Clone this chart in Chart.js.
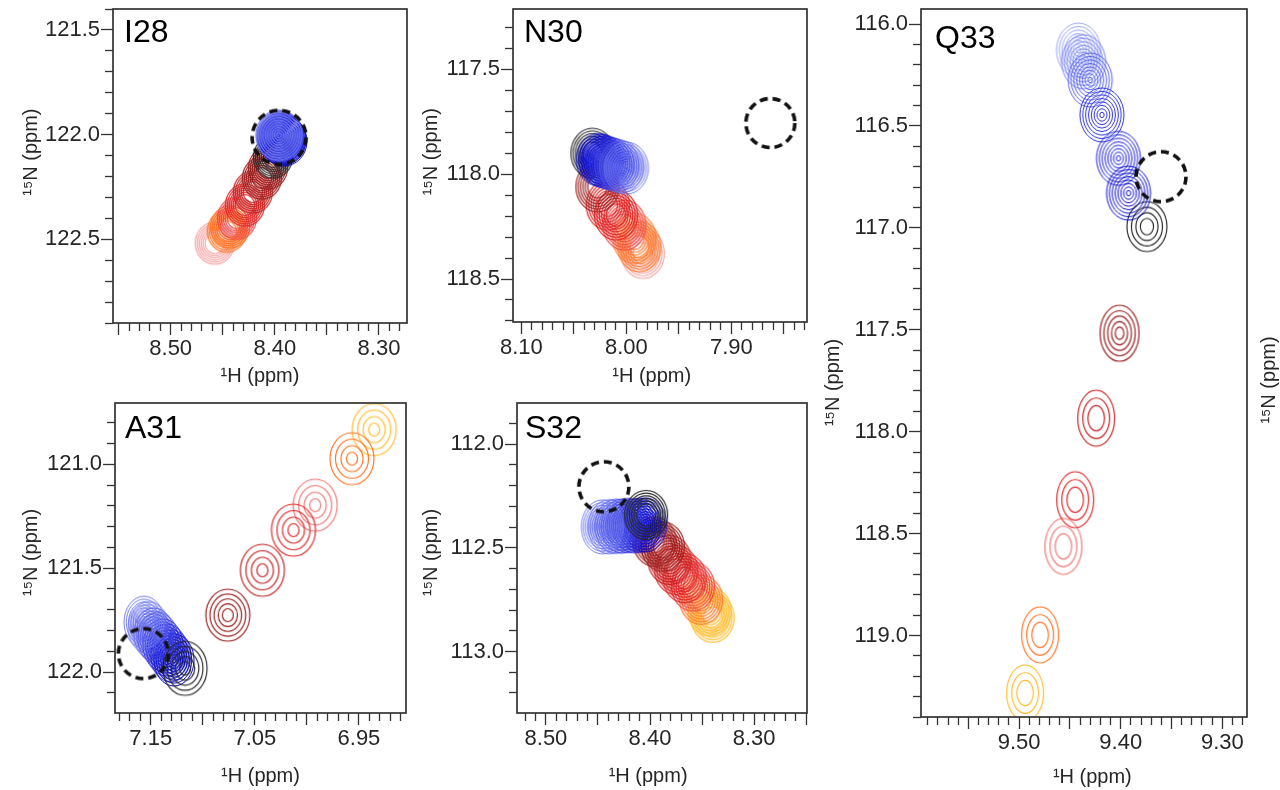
<!DOCTYPE html>
<html><head><meta charset="utf-8">
<script src="https://cdn.jsdelivr.net/npm/chart.js@4/dist/chart.umd.min.js"></script>
<style>
html,body{margin:0;padding:0;background:#fff;width:1280px;height:790px;overflow:hidden}
canvas{position:absolute}
</style></head><body>
<canvas id="cI28" width="420" height="395" style="left:0px;top:0px"></canvas>
<canvas id="cN30" width="420" height="395" style="left:400px;top:0px"></canvas>
<canvas id="cA31" width="420" height="395" style="left:0px;top:395px"></canvas>
<canvas id="cS32" width="420" height="395" style="left:400px;top:395px"></canvas>
<canvas id="cQ33" width="470" height="790" style="left:810px;top:0px"></canvas>
<script>
// ================= DATA =================
const PANELS = ['I28', 'N30', 'A31', 'S32', 'Q33'];

// dashed reference circles (1H ppm, 15N ppm), one per panel
const REF_H = [8.3959, 7.8629, 7.1571, 8.4444, 9.3604];
const REF_N = [122.013, 117.756, 121.911, 112.205, 116.749];

// titration peaks per panel: state, 1H ppm, 15N ppm
const I28_S = ['pk','or','or','r3','r2','r1','dr','dr','k','b1','b2','b3','b4','b5','b6','b7','b8'];
const I28_H = [8.4577,8.4462,8.4430,8.4365,8.4288,8.4212,8.4125,8.4067,8.4019,8.3913,8.3922,8.3927,8.3937,8.3943,8.3950,8.3955,8.3962];
const I28_N = [122.519,122.462,122.441,122.400,122.337,122.275,122.208,122.160,122.108,122.031,122.026,122.024,122.018,122.015,122.009,122.006,122.002];

const N30_S = ['pk','or','or','r3','r2','r2','dr','k','b1','b2','b3','b4','b5','b6','b7','b8'];
const N30_H = [7.9844,7.9876,7.9924,8.0019,8.0098,8.0178,8.0276,8.0324,8.0267,8.0240,8.0212,8.0176,8.0138,8.0092,8.0047,8.0000];
const N30_N = [118.378,118.346,118.306,118.243,118.195,118.148,118.060,117.900,117.930,117.934,117.941,117.945,117.952,117.958,117.965,117.971];

const A31_S = ['ye','or','lr','r2','r1','dr','b1','b2','b3','b4','b5','b6','b7','b8','k'];
const A31_H = [6.9353,6.9567,6.9920,7.0129,7.0427,7.0760,7.1276,7.1308,7.1347,7.1383,7.1432,7.1471,7.1523,7.1564,7.1170];
const A31_N = [120.833,120.973,121.197,121.317,121.510,121.726,121.942,121.921,121.894,121.870,121.838,121.817,121.786,121.760,121.982];

const S32_S = ['ye','ye','or','r3','r2','r2','r1','dr','dr','b1','b2','b3','b4','b5','b6','b7','b8','k'];
const S32_H = [8.3399,8.3428,8.3508,8.3588,8.3668,8.3748,8.3813,8.3877,8.3957,8.4043,8.4098,8.4155,8.4214,8.4268,8.4329,8.4392,8.4458,8.4037];
const S32_N = [112.837,112.806,112.750,112.686,112.646,112.606,112.558,112.494,112.470,112.389,112.391,112.393,112.392,112.395,112.396,112.398,112.399,112.341];

const Q33_S = ['ye','or','lr','r2','r1','dr','k','b9','b8','b7','b5','b4','b3'];
const Q33_H = [9.4941,9.4793,9.4564,9.4448,9.4241,9.4012,9.3742,9.4416,9.4366,9.4300,9.4185,9.4022,9.3923];
const Q33_N = [119.282,118.997,118.563,118.334,117.934,117.517,116.994,116.128,116.185,116.275,116.446,116.659,116.830];

// tick labels
const I28_XLAB = ['8.50','8.40','8.30'];
const I28_YLAB = ['121.5','122.0','122.5'];
const N30_XLAB = ['8.10','8.00','7.90'];
const N30_YLAB = ['117.5','118.0','118.5'];
const A31_XLAB = ['7.15','7.05','6.95'];
const A31_YLAB = ['121.0','121.5','122.0'];
const S32_XLAB = ['8.50','8.40','8.30'];
const S32_YLAB = ['112.0','112.5','113.0'];
const Q33_XLAB = ['9.50','9.40','9.30'];
const Q33_YLAB = ['116.0','116.5','117.0','117.5','118.0','118.5','119.0'];

const X_TITLE = '\u00B9H (ppm)';
const Y_TITLE = '\u00B9\u2075N (ppm)';

// ================= STYLE =================
const FONT = '"Liberation Sans", Arial, Helvetica, sans-serif';
const INK = '#262626';
const COLORS = {
  b1:'#0000b4', b2:'#0606c4', b3:'#1010d0', b4:'#1e20da', b5:'#2e32e0', b6:'#4248e6', b7:'#5a62ec', b8:'#747ef0', b9:'#9aa4f4',
  k:'#262626', dr:'#9a1c1c', r1:'#c41c1c', r2:'#e02424', r3:'#ee4444', lr:'#f07474',
  or:'#ff7424', ye:'#ffbc2c', pk:'#f5a2a2'
};
const LOOK = {
  I28:{rx:19.5, ry:21, n:6, inner:0.5,  brx:23, bry:25, bn:10},
  N30:{rx:21.5, ry:25, n:6, inner:0.45, brx:22, bry:26, bn:10},
  A31:{rx:22, ry:26, n:4, inner:0.25, brx:20, bry:26, bn:9},
  S32:{rx:21.5, ry:24.5, n:6, inner:0.45, brx:21, bry:27, bn:10},
  Q33:{rx:18.5, ry:28, n:3, inner:0.45, brx:22, bry:27, bn:8}
};
const OVERRIDE = {
  A31:{dr:{n:5}, k:{n:5, rx:22, ry:27}},
  Q33:{dr:{n:5, rx:19.5, ry:28, inner:0.22}, k:{n:4, rx:20, ry:25, inner:0.33}}
};

const imgCache = {};
function ringImage(color, rx, ry, n, inner, lw) {
  const key = [color, rx, ry, n, inner, lw].join('|');
  if (imgCache[key]) return imgCache[key];
  const pad = 2;
  const w = 2 * Math.ceil(rx) + 2 * pad, h = 2 * Math.ceil(ry) + 2 * pad;
  const c = document.createElement('canvas');
  c.width = w; c.height = h;
  const g = c.getContext('2d');
  g.strokeStyle = color; g.lineWidth = lw;
  for (let k = 0; k < n; k++) {
    const f = n === 1 ? 1 : 1 - (1 - inner) * k / (n - 1);
    g.beginPath();
    g.ellipse(w / 2, h / 2, rx * f, ry * f, 0, 0, Math.PI * 2);
    g.stroke();
  }
  imgCache[key] = c;
  return c;
}
function peakImage(panel, s) {
  const L = LOOK[panel];
  const blue = s[0] === 'b';
  let st = blue ? {rx:L.brx, ry:L.bry, n:L.bn, inner:0.1} : {rx:L.rx, ry:L.ry, n:L.n, inner:L.inner};
  const o = (OVERRIDE[panel] || {})[s];
  if (o) st = Object.assign({}, st, o);
  return ringImage(COLORS[s], st.rx, st.ry, st.n, st.inner, blue ? 1.0 : 1.15);
}
function dashedImage(r) {
  const w = 2 * Math.ceil(r) + 8;
  const c = document.createElement('canvas');
  c.width = w; c.height = w;
  const g = c.getContext('2d');
  g.strokeStyle = '#111'; g.lineWidth = 3.6; g.setLineDash([8, 5]);
  g.beginPath(); g.arc(w / 2, w / 2, r, 0, Math.PI * 2); g.stroke();
  return c;
}

const NB = '\u00A0';
const CFG = {
  I28:{S:I28_S, H:I28_H, N:I28_N, x:[8.2731, 8.5554], y:[121.40, 122.90], xl:I28_XLAB, yl:I28_YLAB,
       pad:{left:19, top:9, right:13, bottom:7}, yW:94, xH:65, yT:[5,0], xT:[0,0], lab:{dx:11, dy:33}, refR:27},
  N30:{S:N30_S, H:N30_H, N:N30_N, x:[7.828, 8.108], y:[117.212, 118.705], xl:N30_XLAB, yl:N30_YLAB,
       pad:{left:19, top:9, right:13, bottom:7}, yW:94, xH:66, yT:[5,0], xT:[0,3], lab:{dx:11, dy:33}, refR:24.5},
  A31:{S:A31_S, H:A31_H, N:A31_N, x:[6.9048, 7.1843], y:[120.705, 122.197], xl:A31_XLAB, yl:A31_YLAB,
       pad:{left:19, top:8, right:14, bottom:2}, yW:96, xH:75, yT:[2,0], xT:[0,0], lab:{dx:10, dy:35}, refR:25},
  S32:{S:S32_S, H:S32_H, N:S32_N, x:[8.2492, 8.5278], y:[111.801, 113.297], xl:S32_XLAB, yl:S32_YLAB,
       pad:{left:19, top:8, right:13, bottom:2}, yW:98, xH:75, yT:[2,0], xT:[0,5], lab:{dx:8, dy:35}, refR:25},
  Q33:{S:Q33_S, H:Q33_H, N:Q33_N, x:[9.2757, 9.5966], y:[115.9264, 119.400], xl:Q33_XLAB, yl:Q33_YLAB,
       pad:{left:11, top:9, right:33, bottom:1}, yW:100, xH:72, yT:[0,7], xT:[3,0], lab:{dx:14, dy:39}, refR:25,
       extra:{text:Y_TITLE, x:459, y:380}}
};

const decor = {
  id: 'decor',
  afterDraw(chart, args, o) {
    const {ctx, chartArea: a} = chart;
    ctx.save();
    ctx.strokeStyle = '#333'; ctx.lineWidth = 1.7;
    ctx.strokeRect(a.left, a.top, a.right - a.left, a.bottom - a.top);
    ctx.fillStyle = '#000';
    ctx.font = '32px ' + FONT;
    ctx.textBaseline = 'alphabetic'; ctx.textAlign = 'left';
    ctx.fillText(o.label, a.left + o.dx, a.top + o.dy);
    if (o.extra) {
      ctx.fillStyle = INK;
      ctx.font = '20px ' + FONT;
      ctx.translate(o.extra.x, o.extra.y);
      ctx.rotate(-Math.PI / 2);
      ctx.textAlign = 'center'; ctx.textBaseline = 'middle';
      ctx.fillText(o.extra.text, 0, 0);
    }
    ctx.restore();
  }
};

function axis(isX, P) {
  const [min, max] = isX ? P.x : P.y;
  const labels = isX ? P.xl : P.yl;
  const mult = isX ? 100 : 10;
  const isMajor = v => Math.round(v * mult) % 5 === 0;
  const sp = isX ? P.xT : P.yT;
  const text = NB.repeat(sp[0]) + (isX ? X_TITLE : Y_TITLE) + NB.repeat(sp[1]);
  return {
    type: 'linear', position: isX ? 'bottom' : 'left', min, max, reverse: true,
    afterBuildTicks: sc => {
      const t = [];
      for (let k = Math.ceil(min * mult - 1e-6); k <= Math.floor(max * mult + 1e-6); k++) t.push({value: k / mult});
      sc.ticks = t;
    },
    afterFit: sc => {
      if (isX) sc.height = P.xH; else sc.width = P.yW;
      sc.paddingTop = 0; sc.paddingBottom = 0; sc.paddingLeft = 0; sc.paddingRight = 0;
    },
    grid: {
      display: true, drawOnChartArea: false, drawTicks: true, tickLength: 12, tickWidth: 1.3, tickColor: '#333',
      tickBorderDash: c => (c.tick && !isMajor(c.tick.value)) ? [8, 100] : [],
      tickBorderDashOffset: c => (c.tick && !isMajor(c.tick.value) && !isX) ? 104 : 0
    },
    border: {display: false},
    ticks: {
      autoSkip: false, maxRotation: 0, minRotation: 0, padding: 1, color: INK,
      font: {family: FONT, size: 22},
      callback: v => { const s = v.toFixed(isX ? 2 : 1); return labels.includes(s) ? s : ''; }
    },
    title: {display: true, text, color: INK, font: {family: FONT, size: 20}, padding: 0}
  };
}

PANELS.forEach((id, i) => {
  const P = CFG[id];
  const imgs = P.S.map(s => peakImage(id, s));
  new Chart(document.getElementById('c' + id), {
    type: 'scatter',
    data: {
      datasets: [
        {label: 'reference', data: [{x: REF_H[i], y: REF_N[i]}], pointStyle: dashedImage(P.refR), pointRadius: 1, clip: 0},
        {label: id, data: P.H.map((h, k) => ({x: h, y: P.N[k]})), pointStyle: c => imgs[c.dataIndex] || 'circle', pointRadius: 1, clip: 0}
      ]
    },
    options: {
      responsive: false, animation: false, events: [],
      layout: {padding: P.pad, autoPadding: false},
      plugins: {legend: {display: false}, tooltip: {enabled: false},
        decor: {label: id, dx: P.lab.dx, dy: P.lab.dy, extra: P.extra}},
      scales: {x: axis(true, P), y: axis(false, P)}
    },
    plugins: [decor]
  });
});
</script>
</body></html>
